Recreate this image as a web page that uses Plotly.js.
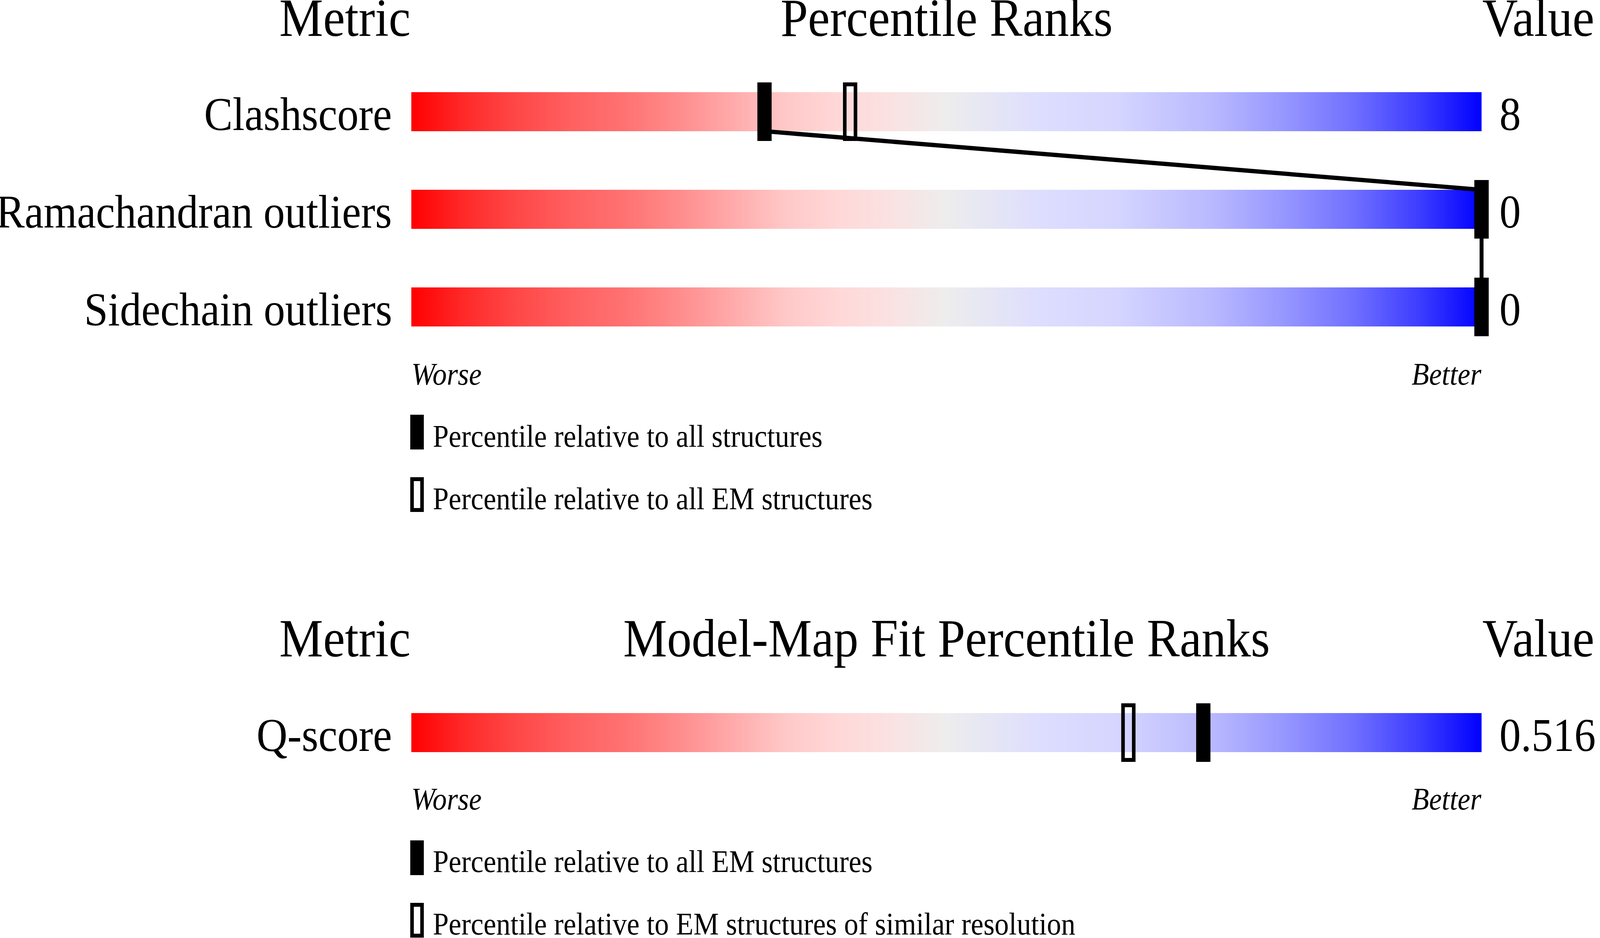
<!DOCTYPE html>
<html>
<head>
<meta charset="utf-8">
<script src="https://cdn.plot.ly/plotly-3.0.1.min.js"></script>
<style>
  html, body { margin: 0; padding: 0; background: #fff; overflow: hidden; }
  #chart { width: 4485px; height: 2402px; transform-origin: 0 0; }
</style>
</head>
<body>
<div id="chart"></div>
<script>
// --- data ---
var geoMetrics = ['Clashscore', 'Ramachandran outliers', 'Sidechain outliers'];
var geoValues = ['8', '0', '0'];
var geoPctAll = [33, 100, 100];   // filled marker: all structures
var geoPctEM = [41, 100, 100];    // open marker: all EM structures

var fitMetrics = ['Q-score'];
var fitValues = ['0.516'];
var fitPctEM = [74];              // filled marker: all EM structures
var fitPctRes = [67];             // open marker: EM structures of similar resolution

// colours of the worse -> better band
var bandStops = [
  [0.00, 'rgb(255,0,0)'],
  [0.05, 'rgb(255,42,42)'],
  [0.10, 'rgb(255,72,72)'],
  [0.15, 'rgb(255,96,96)'],
  [0.20, 'rgb(255,114,114)'],
  [0.25, 'rgb(255,140,140)'],
  [0.30, 'rgb(255,170,170)'],
  [0.35, 'rgb(255,200,200)'],
  [0.40, 'rgb(255,216,216)'],
  [0.45, 'rgb(250,226,226)'],
  [0.50, 'rgb(237,237,237)'],
  [0.59, 'rgb(221,221,255)'],
  [0.66, 'rgb(213,213,255)'],
  [0.75, 'rgb(184,184,255)'],
  [0.82, 'rgb(148,148,255)'],
  [0.88, 'rgb(112,112,255)'],
  [0.945, 'rgb(58,58,255)'],
  [1.00, 'rgb(0,0,255)']
];

// --- page geometry (pixels of the 4485 x 2402 frame) ---
var W = 4485, H = 2402;
var barLeft = 1153, barRight = 4153;      // where 0 and 100 sit
var pxPerUnit = (barRight - barLeft) / 100;
var xMin = -barLeft / pxPerUnit, xMax = (W - barLeft) / pxPerUnit;
var FONT = 'Liberation Serif, Times New Roman, serif';

var panels = [
  { head: 'Percentile Ranks', headBase: 96, rowTop: 236, worseBase: 987,
    metrics: geoMetrics, values: geoValues, filled: geoPctAll, open: geoPctEM, link: true,
    legend: [
      { text: 'Percentile relative to all structures', solid: true, top: 1062, base: 1146 },
      { text: 'Percentile relative to all EM structures', solid: false, top: 1222, base: 1306 }
    ] },
  { head: 'Model-Map Fit Percentile Ranks', headBase: 1685, rowTop: 1826, worseBase: 2075,
    metrics: fitMetrics, values: fitValues, filled: fitPctEM, open: fitPctRes, link: false,
    legend: [
      { text: 'Percentile relative to all EM structures', solid: true, top: 2152, base: 2235 },
      { text: 'Percentile relative to EM structures of similar resolution', solid: false, top: 2312, base: 2395 }
    ] }
];

var rowGap = 250, barH = 100, tickOut = 25;

var traces = [], shapes = [], annotations = [];

// annotations are centred on their box, so move from baseline to middle
function mid(base, size) { return base - 0.365 * size; }

function label(text, x, base, size, anchor, xshift) {
  annotations.push({
    text: text, x: x, y: mid(base, size), xref: 'x', yref: 'y',
    xanchor: anchor, yanchor: 'middle', xshift: xshift || 0,
    showarrow: false, font: { family: FONT, size: size, color: '#000' }
  });
}

panels.forEach(function (p) {
  // headers
  label('Metric', 0, p.headBase, 138, 'right', 0);
  label(p.head, 50, p.headBase, 138, 'center', 0);
  label('Value', 100, p.headBase, 138, 'left', 0);

  var linkX = [], linkY = [];

  p.metrics.forEach(function (name, i) {
    var top = p.rowTop + i * rowGap, bot = top + barH;

    // gradient band
    traces.push({
      type: 'scatter', mode: 'lines', x: [0, 100, 100, 0, 0], y: [top, top, bot, bot, top],
      fill: 'toself', line: { width: 0 }, hoverinfo: 'skip', showlegend: false,
      fillgradient: { type: 'horizontal', start: 0, stop: 100, colorscale: bandStops }
    });

    label(name, 0, bot, 120, 'right', -52);
    label(p.values[i], 100, bot, 120, 'left', 48);

    // open marker first, filled one on top
    if (p.open[i] != null) {
      shapes.push({
        type: 'rect', xref: 'x', yref: 'y', xsizemode: 'pixel', xanchor: p.open[i],
        x0: -15, x1: 15, y0: top - tickOut + 5, y1: bot + tickOut - 5,
        line: { color: '#000', width: 10 }, fillcolor: 'rgba(0,0,0,0)'
      });
    }
    shapes.push({
      type: 'rect', xref: 'x', yref: 'y', xsizemode: 'pixel', xanchor: p.filled[i],
      x0: -20, x1: 20, y0: top - tickOut, y1: bot + tickOut,
      line: { width: 0 }, fillcolor: '#000'
    });

    linkX.push(p.filled[i], p.filled[i]);
    linkY.push(top, bot);
  });

  // line joining the filled markers row to row
  if (p.link) {
    traces.push({
      type: 'scatter', mode: 'lines', x: linkX, y: linkY,
      line: { color: '#000', width: 11 }, hoverinfo: 'skip', showlegend: false
    });
  }

  label('<i>Worse</i>', 0, p.worseBase, 80, 'left', -2);
  label('<i>Better</i>', 100, p.worseBase, 80, 'right', 2);

  // key
  p.legend.forEach(function (k) {
    shapes.push(k.solid ? {
      type: 'rect', xref: 'x', yref: 'y', xsizemode: 'pixel', xanchor: 0,
      x0: -3, x1: 35, y0: k.top, y1: k.top + 89, line: { width: 0 }, fillcolor: '#000'
    } : {
      type: 'rect', xref: 'x', yref: 'y', xsizemode: 'pixel', xanchor: 0,
      x0: 2, x1: 30, y0: k.top + 5, y1: k.top + 84,
      line: { color: '#000', width: 10 }, fillcolor: 'rgba(0,0,0,0)'
    });
    label(k.text, 0, k.base, 80, 'left', 58);
  });
});

var layout = {
  width: W, height: H, autosize: false,
  margin: { t: 0, b: 0, l: 0, r: 0, pad: 0 },
  paper_bgcolor: '#fff', plot_bgcolor: '#fff',
  showlegend: false,
  xaxis: { range: [xMin, xMax], visible: false, fixedrange: true },
  yaxis: { range: [H, 0], visible: false, fixedrange: true },
  shapes: shapes,
  annotations: annotations
};

Plotly.newPlot('chart', traces, layout, { displayModeBar: false, staticPlot: true });

// the window may be narrower than the frame: squeeze horizontally to fit
var sx = Math.min(1, window.innerWidth / W);
document.getElementById('chart').style.transform = 'scale(' + sx + ', 1)';
</script>
</body>
</html>
